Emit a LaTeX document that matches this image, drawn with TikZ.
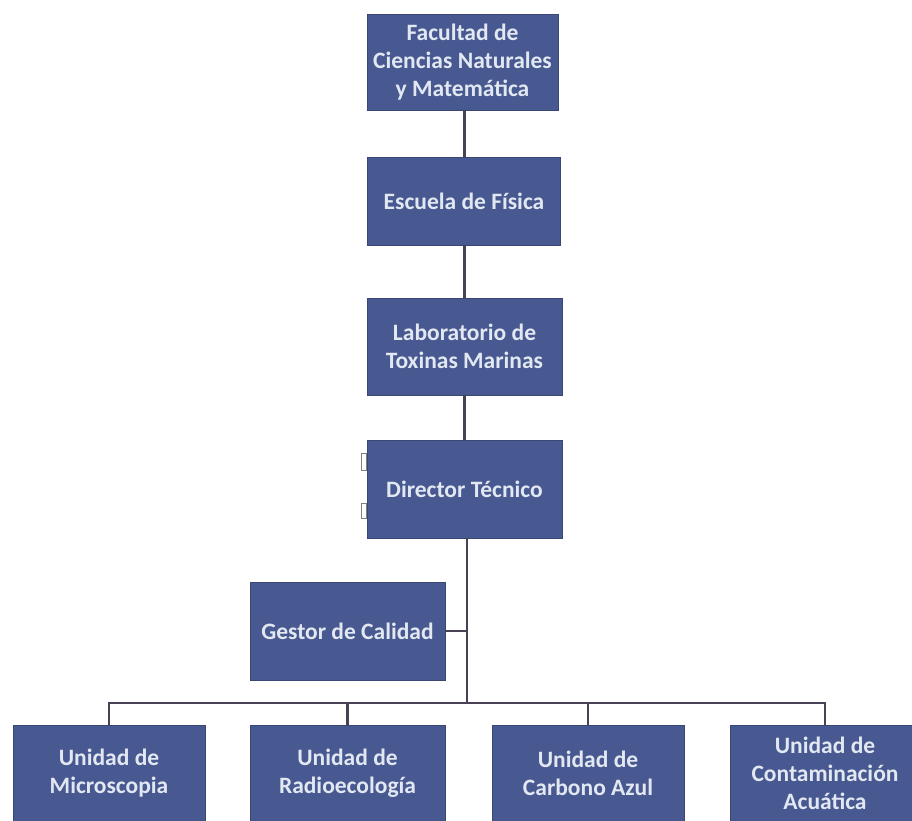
\documentclass[tikz,border=0pt]{standalone}
\usepackage{fontspec}
\setmainfont{Carlito}
\definecolor{boxfill}{RGB}{72,88,144}
\definecolor{boxtext}{RGB}{226,232,242}
\definecolor{linecol}{RGB}{72,64,84}
\begin{document}
\begin{tikzpicture}[x=1pt,y=-1pt,
  orgbox/.style={rectangle, fill=boxfill, draw=boxfill!80!black, line width=0.8pt,
    text=boxtext, font=\fontsize{23.5}{28}\selectfont\bfseries, align=center,
    inner sep=0pt, minimum width=#1, minimum height=96},
  orgbox/.default=193,
  conn/.style={draw=linecol, line width=2.2pt}]
\useasboundingbox (0,0) rectangle (912,821);
\begin{scope}
\clip (0,0) rectangle (912,821);
\node[orgbox=191] (f) at (462.5,62) {Facultad de\\Ciencias Naturales\\y Matemática};
\node[orgbox=193, minimum height=88] (e) at (464,201) {Escuela de Física};
\node[orgbox=195, minimum height=97] (l) at (464.5,346.5) {Laboratorio de\\Toxinas Marinas};
\node[orgbox=195, minimum height=98] (d) at (464.5,489) {Director Técnico};
\node[orgbox=195, minimum height=98] (g) at (347.5,631) {Gestor de Calidad};
\node[orgbox=192] (u1) at (109,773) {Unidad de\\Microscopia};
\node[orgbox=195] (u2) at (347.5,773) {Unidad de\\Radioecología};
\node[orgbox=192] (u3) at (588,773) {Unidad de\\Carbono Azul};
\node[orgbox=190] (u4) at (825,773) {Unidad de\\Contaminación\\Acuática};
\coordinate (bus) at (0,703);
\coordinate (trunk) at (467,0);
\coordinate (upper) at (464.5,0);
\draw[conn] (upper |- f.south) -- (upper |- e.north);
\draw[conn] (upper |- e.south) -- (upper |- l.north);
\draw[conn] (upper |- l.south) -- (upper |- d.north);
\draw[conn] (trunk |- d.south) -- (trunk |- bus);
\draw[conn] (g.east) -- (trunk |- g.east);
\draw[conn] (u1.north) -- (u1.north |- bus) -- (u4.north |- bus) -- (u4.north);
\draw[conn] (u2.north) -- (u2.north |- bus);
\draw[conn] (u3.north) -- (u3.north |- bus);
\draw[gray, line width=0.8pt, fill=white] (361,453) rectangle (366,470);
\draw[gray, line width=0.8pt, fill=white] (361,503) rectangle (366,518);
\end{scope}
\end{tikzpicture}
\end{document}
